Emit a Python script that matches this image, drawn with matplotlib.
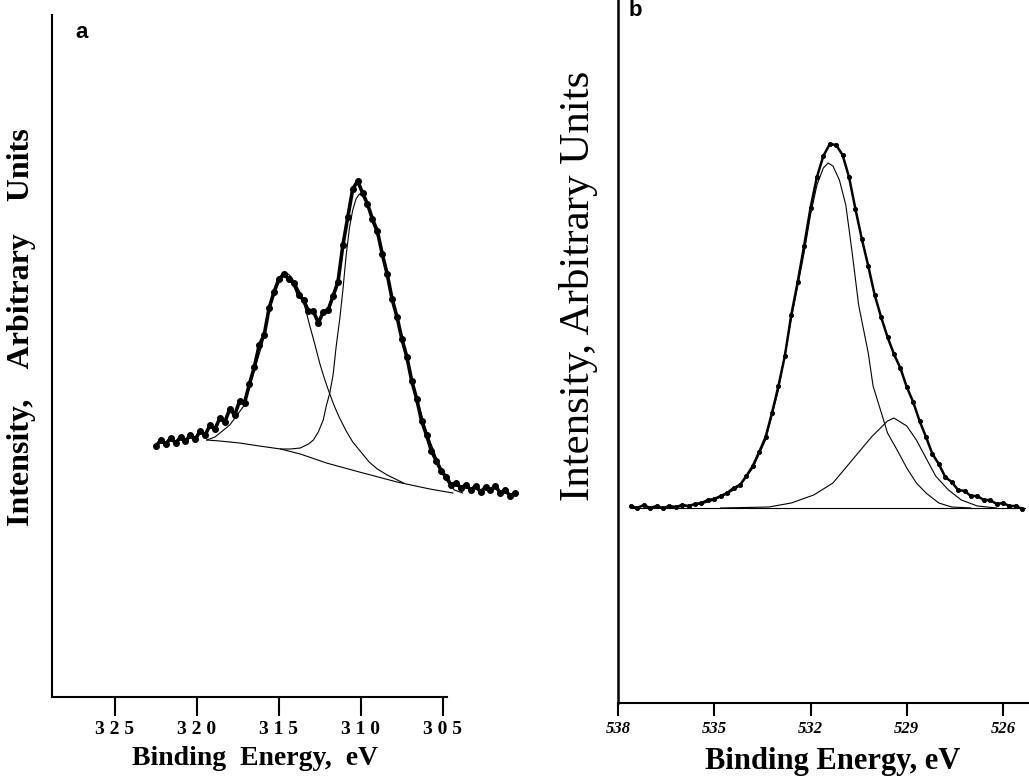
import matplotlib
matplotlib.use("Agg")
import matplotlib.pyplot as plt

plt.rcParams['font.family'] = ['Liberation Serif', 'DejaVu Serif']

# ---- panel a : binding energy (eV) / intensity (arb.) ----
a_energy = [322.5, 322.2, 321.9, 321.6, 321.3, 321.0, 320.7, 320.4, 320.1, 319.8,
            319.5, 319.2, 318.9, 318.6, 318.3, 318.0, 317.7, 317.4, 317.1, 316.8,
            316.5, 316.2, 315.9, 315.6, 315.3, 315.0, 314.7, 314.4, 314.1, 313.8,
            313.5, 313.2, 312.9, 312.6, 312.3, 312.0, 311.7, 311.4, 311.1, 310.8,
            310.5, 310.2, 309.9, 309.6, 309.3, 309.0, 308.7, 308.4, 308.1, 307.8,
            307.5, 307.2, 306.9, 306.6, 306.3, 306.0, 305.7, 305.4, 305.1, 304.8,
            304.5, 304.2, 303.9, 303.6, 303.3, 303.0, 302.7, 302.4, 302.1, 301.8,
            301.5, 301.2, 300.9, 300.6]
a_counts = [251, 257, 253, 259, 254, 260, 256, 262, 258, 266,
            262, 272, 268, 279, 275, 288, 282, 296, 294, 313,
            330, 352, 362, 389, 405, 418, 423, 418, 414, 402,
            397, 386, 386, 374, 385, 387, 401, 415, 452, 480,
            508, 516, 504, 493, 478, 466, 443, 423, 398, 380,
            358, 340, 316, 298, 276, 262, 246, 236, 226, 220,
            212, 214, 209, 212, 207, 211, 205, 210, 207, 211,
            204, 207, 201, 204]

a_bg_e = [319.4, 318.6, 317.4, 316.2, 314.9, 313.7, 312.1, 310.1, 307.8, 305.8, 304.4]
a_bg_i = [257, 256, 254, 251, 248, 243, 234, 225, 215, 208, 204]

a_c1_e = [319.4, 318.9, 318.0, 317.1, 316.5, 316.0, 315.7, 315.2, 314.9, 314.6,
          314.3, 314.0, 313.7, 313.4, 313.1, 312.8, 312.5, 312.2, 311.9, 311.6,
          311.3, 310.9, 310.5, 310.0, 309.5, 309.0, 308.4, 307.9, 307.4]
a_c1_i = [257, 260, 272, 292, 327, 354, 382, 407, 418, 425,
          421, 414, 404, 389, 370, 352, 333, 317, 303, 290,
          279, 266, 255, 245, 235, 228, 222, 218, 214]

a_c2_e = [314.9, 314.3, 313.7, 313.2, 312.9, 312.6, 312.3, 312.1, 311.9, 311.7,
          311.5, 311.3, 311.1, 310.9, 310.7, 310.5, 310.3, 310.1, 309.9, 309.6,
          309.3, 308.8, 308.4, 307.8, 307.2, 306.6, 306.0, 305.4, 304.8, 304.3, 303.8]
a_c2_i = [248, 248, 249, 253, 257, 265, 277, 292, 304, 322,
          352, 377, 407, 442, 469, 487, 498, 503, 501, 494,
          475, 452, 422, 382, 339, 299, 265, 239, 217, 207, 204]

a_ticks = [325, 320, 315, 310, 305]
a_ticklabels = ["3 2 5", "3 2 0", "3 1 5", "3 1 0", "3 0 5"]

# ---- panel b ----
b_energy = [537.6, 537.4, 537.2, 537.0, 536.8, 536.6, 536.4, 536.2, 536.0, 535.8,
            535.6, 535.4, 535.2, 535.0, 534.8, 534.6, 534.4, 534.2, 534.0, 533.8,
            533.6, 533.4, 533.2, 533.0, 532.8, 532.6, 532.4, 532.2, 532.0, 531.8,
            531.6, 531.4, 531.2, 531.0, 530.8, 530.6, 530.4, 530.2, 530.0, 529.8,
            529.6, 529.4, 529.2, 529.0, 528.8, 528.6, 528.4, 528.2, 528.0, 527.8,
            527.6, 527.4, 527.2, 527.0, 526.8, 526.6, 526.4, 526.2, 526.0, 525.8,
            525.6, 525.4]
b_counts = [197, 195, 198, 195, 197, 195, 197, 196, 198, 197,
            199, 200, 203, 204, 207, 210, 215, 218, 227, 237,
            251, 266, 290, 317, 347, 388, 421, 457, 495, 526,
            547, 559, 558, 548, 526, 494, 464, 437, 408, 386,
            366, 349, 335, 316, 301, 282, 266, 249, 239, 226,
            221, 213, 212, 207, 207, 203, 203, 199, 200, 197,
            197, 194]

b_bg_e = [537.6, 525.3]
b_bg_i = [195, 195]

b_c1_e = [536.4, 535.8, 535.4, 535.0, 534.6, 534.2, 533.8, 533.4, 533.0, 532.6,
          532.2, 532.0, 531.8, 531.6, 531.45, 531.3, 531.1, 530.9, 530.7, 530.5,
          530.2, 530.05, 529.8, 529.6, 529.3, 529.0, 528.7, 528.4, 528.0, 527.6, 527.0]
b_c1_i = [195, 197, 199, 203, 209, 217, 235, 263, 313, 384,
          450, 488, 518, 535, 540, 537, 523, 498, 450, 398,
          350, 317, 291, 270, 253, 235, 220, 210, 200, 196, 195]

b_c2_e = [534.8, 533.3, 532.6, 531.9, 531.3, 530.7, 530.1, 529.6, 529.4, 529.0,
          528.7, 528.4, 528.1, 527.7, 527.3, 526.8, 526.2]
b_c2_i = [195, 196, 200, 208, 220, 243, 266, 282, 285, 277,
          263, 245, 227, 213, 203, 197, 195]

b_ticks = [538, 535, 532, 529, 526]
b_ticklabels = ["538", "535", "532", "529", "526"]

W, H = 1029, 776


def box(x0, y0, x1, y1):
    return [x0 / W, 1 - y1 / H, (x1 - x0) / W, (y1 - y0) / H]


fig = plt.figure(figsize=(W / 100, H / 100), dpi=100)

# panel a
ax = fig.add_axes(box(52, 15, 520, 697))
ax.plot(a_energy, a_counts, color='black', lw=2.6, marker='o', ms=4.2,
        mew=0.8, mfc='black')
ax.plot(a_bg_e, a_bg_i, color='black', lw=0.8)
ax.plot(a_c1_e, a_c1_i, color='black', lw=0.8)
ax.plot(a_c2_e, a_c2_i, color='black', lw=0.8)
ax.set_xlim(328.84, 300.3)
ax.set_ylim(0, 682)
ax.spines['top'].set_visible(False)
ax.spines['right'].set_visible(False)
ax.spines['left'].set_linewidth(1.5)
ax.spines['bottom'].set_linewidth(1.5)
ax.spines['bottom'].set_bounds(328.84, 304.75)
ax.set_yticks([])
ax.set_xticks(a_ticks)
ax.set_xticklabels(a_ticklabels, fontsize=14, fontweight='bold')
ax.tick_params(axis='x', direction='out', length=14, width=1.5, pad=3)
ax.set_xlabel("Binding  Energy,  eV", fontsize=20, fontweight='bold')
ax.xaxis.set_label_coords(0.434, -0.072)
ax.text(0.05, 0.975, "a", transform=ax.transAxes, fontsize=16,
        fontweight='bold', family='Liberation Sans', va='center')
fig.text(22 / W, 1 - 327 / H, "Intensity,    Arbitrary    Units", rotation=90,
         ha='center', va='center', fontsize=23, fontweight='bold')

# panel b
bx = fig.add_axes(box(618, 0, 1029, 703))
bx.plot(b_energy, b_counts, color='black', lw=1.8, marker='o', ms=3,
        mew=0.6, mfc='black')
bx.plot(b_bg_e, b_bg_i, color='black', lw=0.8)
bx.plot(b_c1_e, b_c1_i, color='black', lw=0.8)
bx.plot(b_c2_e, b_c2_i, color='black', lw=0.8)
bx.set_xlim(538, 525.19)
bx.set_ylim(0, 703)
bx.spines['top'].set_visible(False)
bx.spines['right'].set_visible(False)
bx.spines['left'].set_linewidth(1.8)
bx.spines['bottom'].set_linewidth(1.5)
bx.set_yticks([])
bx.set_xticks(b_ticks)
bx.set_xticklabels(b_ticklabels, fontsize=12, fontweight='bold', style='italic')
bx.tick_params(axis='x', direction='out', length=9, width=1.5, pad=4)
bx.set_xlabel("Binding Energy, eV", fontsize=22, fontweight='bold')
bx.xaxis.set_label_coords(0.523, -0.062)
bx.text(0.025, 0.985, "b", transform=bx.transAxes, fontsize=16,
        fontweight='bold', family='Liberation Sans', va='center')
fig.text(578 / W, 1 - 286 / H, "Intensity, Arbitrary Units", rotation=90,
         ha='center', va='center', fontsize=31)

fig.savefig("out.png", dpi=100)
